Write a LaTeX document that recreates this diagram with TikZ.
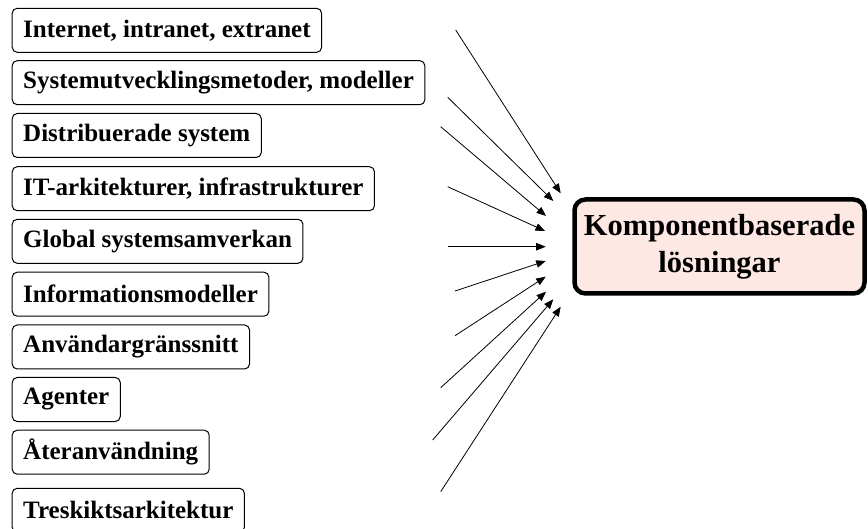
\documentclass[tikz,border=0pt]{standalone}
\usepackage{fontspec}
\setmainfont{Liberation Serif}
\usetikzlibrary{arrows.meta}
\definecolor{boxpink}{RGB}{253,232,228}
\tikzset{
  topic/.style={draw, line width=1pt, rounded corners=5pt, anchor=west,
    minimum height=44pt, inner xsep=11pt, inner ysep=0pt,
    font=\fontsize{25}{30}\selectfont\bfseries},
  goal/.style={draw, line width=4.5pt, rounded corners=11pt, fill=boxpink,
    minimum width=290pt, minimum height=94pt, align=center,
    font=\fontsize{30.5}{37}\selectfont\bfseries},
  feed/.style={line width=0.8pt, -{Triangle[length=9.5pt,width=7.5pt]}}
}
\begin{document}
\begin{tikzpicture}[x=1pt,y=-1pt]
\useasboundingbox (0,0) rectangle (868,529);
\node[topic] (t1) at (11.7,30.3) {Internet, intranet, extranet};
\node[topic] (t2) at (11.7,82.7) {Systemutvecklingsmetoder, modeller};
\node[topic] (t3) at (11.7,135.5) {Distribuerade system};
\node[topic] (t4) at (11.7,188.7) {IT-arkitekturer, infrastrukturer};
\node[topic] (t5) at (11.7,241.3) {Global systemsamverkan};
\node[topic] (t6) at (11.7,294.2) {Informationsmodeller};
\node[topic] (t7) at (11.7,347) {Användargränssnitt};
\node[topic] (t8) at (11.7,399.5) {Agenter};
\node[topic] (t9) at (11.7,452.2) {Återanvändning};
\node[topic] (t10) at (11.7,510.3) {Treskiktsarkitektur};
\node[goal] (g) at (719.5,246.5) {Komponentbaserade\\lösningar};
% arrow start and end points
\coordinate (s1) at (455.7,30);   \coordinate (e1) at (560.7,193.3);
\coordinate (s2) at (447.7,97.3); \coordinate (e2) at (553.3,201);
\coordinate (s3) at (440.7,126.7);\coordinate (e3) at (546,216);
\coordinate (s4) at (447.7,186.7);\coordinate (e4) at (545,231);
\coordinate (s5) at (447.7,246.7);\coordinate (e5) at (545.7,246.7);
\coordinate (s6) at (455,291);    \coordinate (e6) at (545.7,261);
\coordinate (s7) at (455,335.7);  \coordinate (e7) at (545.7,276.7);
\coordinate (s8) at (440.7,387.7);\coordinate (e8) at (546,291.7);
\coordinate (s9) at (432.7,440);  \coordinate (e9) at (553.3,299.3);
\coordinate (s10) at (440.7,491.7);\coordinate (e10) at (560.7,306.7);
\foreach \i in {1,...,10} \draw[feed] (s\i) -- (e\i);
\end{tikzpicture}
\end{document}
